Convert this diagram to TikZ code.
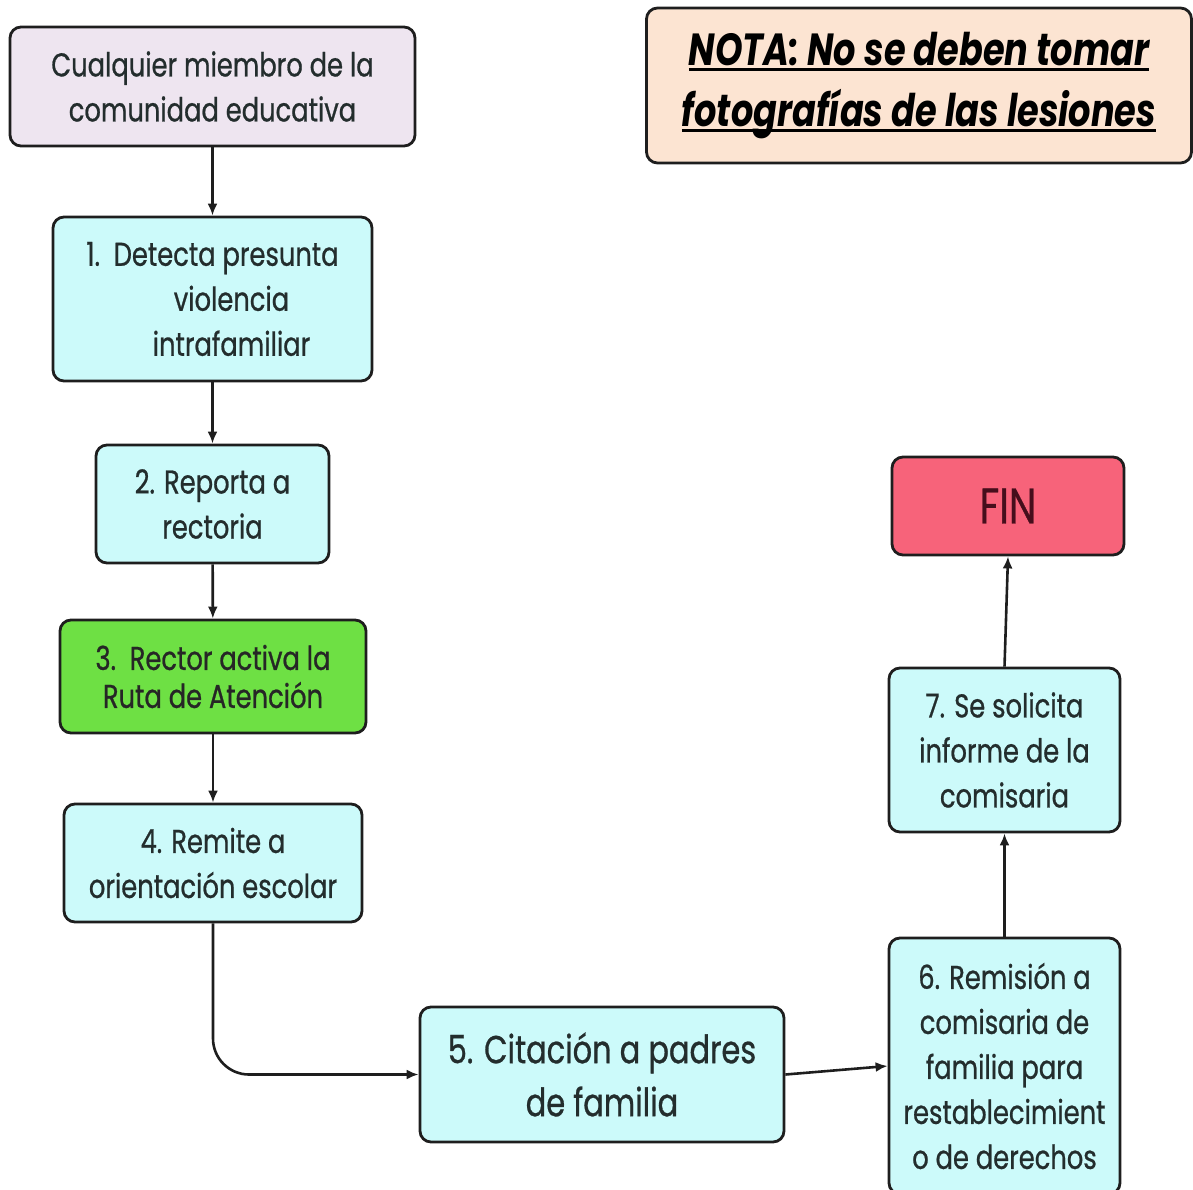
\documentclass[tikz,border=0pt]{standalone}
\usepackage{fontspec}
\setmainfont{Poppins}[FakeStretch=0.78]
\usetikzlibrary{arrows.meta}
\definecolor{lav}{RGB}{238,229,240}
\definecolor{cy}{RGB}{204,250,250}
\definecolor{grn}{RGB}{110,224,68}
\definecolor{finc}{RGB}{247,99,122}
\definecolor{notac}{RGB}{252,228,210}
\definecolor{edge}{RGB}{30,30,30}
\definecolor{txt}{RGB}{35,45,45}
\definecolor{fintxt}{RGB}{70,14,28}
\newcommand\myul[1]{\setbox0\hbox{#1}\rlap{\rule[-6pt]{\wd0}{3pt}}\box0}
\tikzset{
  box/.style={draw=edge, line width=2.8pt, rounded corners=11pt, align=center,
    text=txt, inner sep=0pt, font=\fontsize{33}{45}\selectfont\addfontfeature{FakeBold=0.7}},
  conn/.style={draw=edge, line width=2.6pt, -{Latex[length=12pt,width=10pt]}},
}
\begin{document}
\begin{tikzpicture}[x=1pt,y=-1pt]
\useasboundingbox (0,0) rectangle (1193,1189);
\node[box, fill=lav, minimum width=405pt, minimum height=119pt] (b0) at (212.5,86.5)
  {Cualquier miembro de la\\comunidad educativa};
\node[box, fill=cy, minimum width=319pt, minimum height=164pt] (b1) at (212.5,299)
  {1.\ \ Detecta presunta\\\hspace*{38pt}violencia\\\hspace*{38pt}intrafamiliar};
\node[box, fill=cy, minimum width=233pt, minimum height=118pt] (b2) at (212.5,504)
  {2. Reporta a\\rectoria};
\node[box, fill=grn, minimum width=306pt, minimum height=113pt,
  font=\fontsize{33}{38}\selectfont\addfontfeature{FakeBold=0.7}, text=black!85] (b3) at (213,676.5)
  {3.\ \ Rector activa la\\Ruta de Atención};
\node[box, fill=cy, minimum width=298pt, minimum height=118pt] (b4) at (213,863)
  {4. Remite a\\orientación escolar};
\node[box, fill=cy, minimum width=364pt, minimum height=135pt,
  font=\fontsize{39}{53}\selectfont\addfontfeature{FakeBold=0.7}] (b5) at (602,1074.5)
  {5. Citación a padres\\de familia};
\node[box, fill=cy, minimum width=231pt, minimum height=256pt] (b6) at (1004.5,1066)
  {6. Remisión a\\comisaria de\\familia para\\restablecimient\\o de derechos};
\node[box, fill=cy, minimum width=231pt, minimum height=164pt] (b7) at (1004.5,750)
  {7. Se solicita\\informe de la\\comisaria};
\node[box, fill=finc, minimum width=232pt, minimum height=98pt,
  font=\fontsize{50}{55}\selectfont\addfontfeature{FakeBold=0.7}, text=fintxt] (fin) at (1008,506) {FIN};
\node[box, fill=notac, minimum width=545pt, minimum height=155pt,
  font=\fontsize{45}{61}\selectfont\bfseries\itshape, text=black] (nota) at (919,85.5)
  {\myul{NOTA: No se deben tomar}\\\myul{fotografías de las lesiones}};
\draw[conn] (b0) -- (b1);
\draw[conn] (b1) -- (b2);
\draw[conn] (b2) -- (b3);
\draw[conn] (b3) -- (b4);
\draw[conn, rounded corners=36pt] (b4.south) |- (b5.west);
\draw[conn] (b5.east) -- (b6.west);
\draw[conn] (b6.north) -- (b7.south);
\draw[conn] (b7.north) -- (fin.south);
\end{tikzpicture}
\end{document}
